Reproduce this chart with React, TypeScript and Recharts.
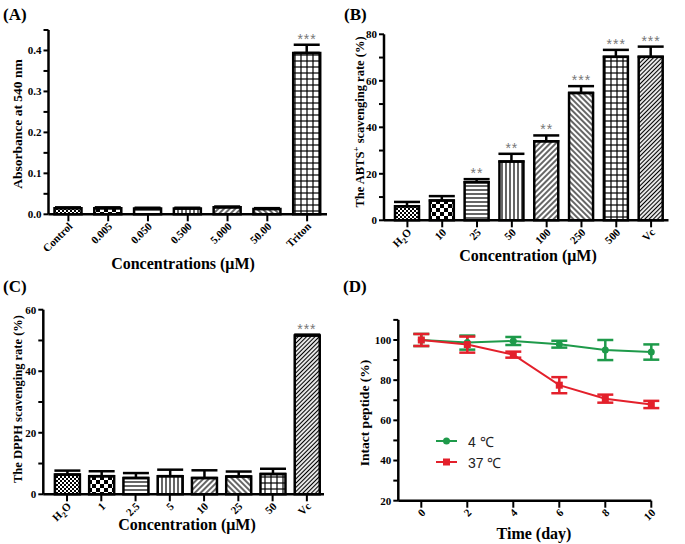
import React from 'react';
import { ComposedChart, Bar, Cell, XAxis, YAxis, ErrorBar, Scatter, Line } from 'recharts';

const SERIF = '"Liberation Serif", "DejaVu Serif", "Times New Roman", Times, serif';
const SANS = '"Liberation Sans", Arial, sans-serif';
const GREEN = '#1e9a4a';
const RED = '#e3202b';

// (A) hemolysis
const hemoLabels = ['Control', '0.005', '0.050', '0.500', '5.000', '50.00', 'Triton'];
const hemoMean = [0.015, 0.015, 0.014, 0.014, 0.017, 0.013, 0.394];
const hemoErr = [0.002, 0.002, 0.002, 0.002, 0.002, 0.002, 0.02];
const hemoStars = ['', '', '', '', '', '', '***'];
const hemoTicks = [0, 0.05, 0.1, 0.15, 0.2, 0.25, 0.3, 0.35, 0.4, 0.45];

// (B) ABTS
const abtsLabels = ['H2O', '10', '25', '50', '100', '250', '500', 'Vc'];
const abtsMean = [6.0, 8.5, 16.4, 25.3, 34.0, 54.8, 70.3, 70.3];
const abtsErr = [1.9, 1.9, 1.3, 3.3, 2.5, 2.9, 3.0, 4.4];
const abtsStars = ['', '', '**', '**', '**', '***', '***', '***'];
const abtsTicks = [0, 10, 20, 30, 40, 50, 60, 70, 80];

// (C) DPPH
const dpphLabels = ['H2O', '1', '2.5', '5', '10', '25', '50', 'Vc'];
const dpphMean = [6.4, 5.9, 5.3, 5.9, 5.3, 5.8, 6.6, 51.6];
const dpphErr = [1.3, 1.6, 1.6, 2.1, 2.5, 1.6, 1.7, 0.3];
const dpphStars = ['', '', '', '', '', '', '', '***'];
const dpphTicks = [0, 10, 20, 30, 40, 50, 60];

// (D) stability
const days = [0, 2, 4, 6, 8, 10];
const coldMean = [100, 98.7, 99.5, 97.9, 95.0, 94.0];
const coldErr = [3, 3.5, 2, 1.7, 5, 3.8];
const warmMean = [100, 97.7, 92.7, 77.5, 70.8, 67.9];
const warmErr = [3, 4, 1.5, 4, 2, 1.8];
const dayTicks = [0, 2, 4, 6, 8, 10];
const pctTicks = [20, 30, 40, 50, 60, 70, 80, 90, 100, 110];

const hemoFills = ['checkS', 'checkL', 'hline', 'vline', 'diag', 'bdiag', 'grid'];
const sweepFills = ['checkS', 'checkL', 'hline', 'vline', 'diag', 'bdiag', 'grid', 'dense'];

const axisLine = { stroke: '#000', strokeWidth: 2.5 };
const tickLine = { stroke: '#000', strokeWidth: 2 };
const yTick = { fontFamily: SERIF, fontWeight: 'bold', fontSize: 11, fill: '#000' };

function patternDefs(id: string) {
  const s = { stroke: '#000', strokeWidth: 1.2 };
  return (
    <defs>
      <pattern id={`${id}-checkS`} width={4} height={4} patternUnits="userSpaceOnUse">
        <rect width={4} height={4} fill="#fff" />
        <rect width={2} height={2} fill="#000" />
        <rect x={2} y={2} width={2} height={2} fill="#000" />
      </pattern>
      <pattern id={`${id}-checkL`} width={8} height={8} patternUnits="userSpaceOnUse">
        <rect width={8} height={8} fill="#fff" />
        <rect width={4} height={4} fill="#000" />
        <rect x={4} y={4} width={4} height={4} fill="#000" />
      </pattern>
      <pattern id={`${id}-hline`} width={4} height={4} patternUnits="userSpaceOnUse">
        <rect width={4} height={4} fill="#fff" />
        <line x1={0} y1={2} x2={4} y2={2} {...s} />
      </pattern>
      <pattern id={`${id}-vline`} width={4} height={4} patternUnits="userSpaceOnUse">
        <rect width={4} height={4} fill="#fff" />
        <line x1={2} y1={0} x2={2} y2={4} {...s} />
      </pattern>
      <pattern id={`${id}-diag`} width={4} height={4} patternUnits="userSpaceOnUse" patternTransform="rotate(45)">
        <rect width={4} height={4} fill="#fff" />
        <line x1={2} y1={0} x2={2} y2={4} {...s} />
      </pattern>
      <pattern id={`${id}-bdiag`} width={4} height={4} patternUnits="userSpaceOnUse" patternTransform="rotate(-45)">
        <rect width={4} height={4} fill="#fff" />
        <line x1={2} y1={0} x2={2} y2={4} {...s} />
      </pattern>
      <pattern id={`${id}-grid`} width={6} height={6} patternUnits="userSpaceOnUse">
        <rect width={6} height={6} fill="#fff" />
        <line x1={1} y1={0} x2={1} y2={6} {...s} />
        <line x1={0} y1={1} x2={6} y2={1} {...s} />
      </pattern>
      <pattern id={`${id}-dense`} width={3} height={3} patternUnits="userSpaceOnUse" patternTransform="rotate(45)">
        <rect width={3} height={3} fill="#fff" />
        <line x1={1.5} y1={0} x2={1.5} y2={3} {...s} />
      </pattern>
    </defs>
  );
}

function SlantTick({ x, y, payload }: any) {
  const v = String(payload.value);
  return (
    <g transform={`translate(${x + 2},${y + 1}) rotate(-45)`}>
      <text textAnchor="end" dy="0.35em" fontFamily={SERIF} fontWeight="bold" fontSize={11} fill="#000">
        {v === 'H2O' ? (
          <>
            <tspan>H</tspan>
            <tspan fontSize={8} dy={3}>2</tspan>
            <tspan dy={-3}>O</tspan>
          </>
        ) : (
          v
        )}
      </text>
    </g>
  );
}

function StarMark({ cx, cy, payload }: any) {
  if (!payload || !payload.star) return null;
  return (
    <text x={cx} y={cy - 1} textAnchor="middle" fontFamily={SANS} fontSize={14} fill="#777" letterSpacing={1}>
      {payload.star}
    </text>
  );
}

function BarPanel(props: any) {
  const { id, labels, mean, err, stars, fills, ticks, fmt, width, height, margin, yWidth, padLeft, barSize, xHeight } = props;
  const data = labels.map((label: string, i: number) => ({
    label,
    mean: mean[i],
    err: [0, err[i]],
    top: mean[i] + err[i],
    star: stars[i],
  }));
  return (
    <ComposedChart width={width} height={height} data={data} margin={margin}>
      {patternDefs(id)}
      <XAxis
        dataKey="label"
        type="category"
        interval={0}
        tick={<SlantTick />}
        tickSize={7}
        axisLine={axisLine}
        tickLine={tickLine}
        padding={{ left: padLeft, right: 0 }}
        height={xHeight}
      />
      <YAxis
        domain={[ticks[0], ticks[ticks.length - 1]]}
        ticks={ticks}
        interval={0}
        tickFormatter={fmt}
        width={yWidth}
        tick={yTick}
        tickSize={5}
        axisLine={axisLine}
        tickLine={tickLine}
      />
      <Bar dataKey="mean" barSize={barSize} stroke="#000" strokeWidth={2.5} isAnimationActive={false}>
        {data.map((_d: any, i: number) => (
          <Cell key={i} fill={`url(#${id}-${fills[i]})`} />
        ))}
        <ErrorBar dataKey="err" width={13} stroke="#000" strokeWidth={2.5} direction="y" />
      </Bar>
      <Scatter dataKey="top" shape={StarMark} isAnimationActive={false} />
    </ComposedChart>
  );
}

function ColdDot({ cx, cy }: any) {
  return <circle cx={cx} cy={cy} r={3.5} fill={GREEN} />;
}

function WarmDot({ cx, cy }: any) {
  return <rect x={cx - 3.5} y={cy - 3.5} width={7} height={7} fill={RED} />;
}

function Title({ x, y, size, rotate, children }: any) {
  return (
    <div
      style={{
        position: 'absolute',
        left: x,
        top: y,
        transform: `translate(-50%, -50%)${rotate ? ' rotate(-90deg)' : ''}`,
        whiteSpace: 'nowrap',
        fontFamily: SERIF,
        fontWeight: 'bold',
        fontSize: size,
        lineHeight: 1,
        color: '#000',
      }}
    >
      {children}
    </div>
  );
}

function LegendRow({ y, label, warm }: any) {
  const color = warm ? RED : GREEN;
  return (
    <div style={{ position: 'absolute', left: 436, top: y - 8, height: 16, display: 'flex', alignItems: 'center' }}>
      <svg width={22} height={10}>
        <line x1={0} y1={5} x2={21} y2={5} stroke={color} strokeWidth={2} />
        {warm ? <rect x={7} y={1.5} width={7} height={7} fill={color} /> : <circle cx={10.5} cy={5} r={3.5} fill={color} />}
      </svg>
      <span style={{ marginLeft: 10, fontFamily: SANS, fontSize: 14, color: '#222' }}>{label}</span>
    </div>
  );
}

export default function App() {
  const stabData = days.map((day, i) => ({
    day,
    cold: coldMean[i],
    coldErr: coldErr[i],
    warm: warmMean[i],
    warmErr: warmErr[i],
  }));
  const panelLabel = { position: 'absolute' as const, fontFamily: SERIF, fontWeight: 'bold' as const, fontSize: 17, lineHeight: 1 };

  return (
    <div style={{ position: 'absolute', left: 0, top: 0, width: 685, height: 544, background: '#fff' }}>
      <div style={{ position: 'absolute', left: 0, top: 0 }}>
        <BarPanel
          id="a"
          labels={hemoLabels}
          mean={hemoMean}
          err={hemoErr}
          stars={hemoStars}
          fills={hemoFills}
          ticks={hemoTicks}
          fmt={(v: number) => (Math.round(v * 100) % 10 === 0 ? v.toFixed(1) : '')}
          width={340}
          height={272}
          margin={{ top: 30, right: 13, bottom: 7.7, left: 0 }}
          yWidth={48.5}
          xHeight={50}
          padLeft={0}
          barSize={27}
        />
      </div>
      <div style={{ position: 'absolute', left: 340, top: 0 }}>
        <BarPanel
          id="b"
          labels={abtsLabels}
          mean={abtsMean}
          err={abtsErr}
          stars={abtsStars}
          fills={sweepFills}
          ticks={abtsTicks}
          fmt={(v: number) => (v % 20 === 0 ? String(v) : '')}
          width={345}
          height={272}
          margin={{ top: 34.3, right: 16.5, bottom: 6.7, left: 0 }}
          yWidth={44}
          xHeight={45}
          padLeft={6}
          barSize={24}
        />
      </div>
      <div style={{ position: 'absolute', left: 0, top: 272 }}>
        <BarPanel
          id="c"
          labels={dpphLabels}
          mean={dpphMean}
          err={dpphErr}
          stars={dpphStars}
          fills={sweepFills}
          ticks={dpphTicks}
          fmt={(v: number) => (v % 20 === 0 ? String(v) : '')}
          width={340}
          height={272}
          margin={{ top: 37.7, right: 16, bottom: 4.7, left: 0 }}
          yWidth={43.3}
          xHeight={45}
          padLeft={6.6}
          barSize={25}
        />
      </div>
      <div style={{ position: 'absolute', left: 340, top: 272 }}>
        <ComposedChart width={345} height={272} data={stabData} margin={{ top: 47.9, right: 33.7, bottom: 8.3, left: 0 }}>
          <XAxis
            dataKey="day"
            type="number"
            domain={[-1, 10]}
            ticks={dayTicks}
            interval={0}
            tick={<SlantTick />}
            tickSize={7}
            axisLine={axisLine}
            tickLine={tickLine}
            height={35}
          />
          <YAxis
            domain={[20, 110]}
            ticks={pctTicks}
            interval={0}
            tickFormatter={(v: number) => (v % 20 === 0 ? String(v) : '')}
            width={58.3}
            tick={yTick}
            tickSize={5}
            axisLine={axisLine}
            tickLine={tickLine}
          />
          <Line dataKey="cold" type="linear" stroke={GREEN} strokeWidth={2} dot={<ColdDot />} isAnimationActive={false}>
            <ErrorBar dataKey="coldErr" width={8} stroke={GREEN} strokeWidth={2.5} direction="y" />
          </Line>
          <Line dataKey="warm" type="linear" stroke={RED} strokeWidth={2} dot={<WarmDot />} isAnimationActive={false}>
            <ErrorBar dataKey="warmErr" width={8} stroke={RED} strokeWidth={2.5} direction="y" />
          </Line>
        </ComposedChart>
      </div>

      <div style={{ ...panelLabel, left: 3, top: 6 }}>(A)</div>
      <div style={{ ...panelLabel, left: 344, top: 6 }}>(B)</div>
      <div style={{ ...panelLabel, left: 3, top: 278 }}>(C)</div>
      <div style={{ ...panelLabel, left: 343, top: 278 }}>(D)</div>

      <Title x={17.5} y={124} size={13.5} rotate>Absorbance at 540 nm</Title>
      <Title x={183} y={264} size={16}>Concentrations (μM)</Title>
      <Title x={359} y={122} size={12.5} rotate>
        The ABTS<sup style={{ fontSize: 9 }}>+</sup> scavenging rate (%)
      </Title>
      <Title x={528} y={256} size={16}>Concentration (μM)</Title>
      <Title x={18} y={399} size={12.5} rotate>The DPPH scavenging rate (%)</Title>
      <Title x={187} y={525} size={16}>Concentration (μM)</Title>
      <Title x={365} y={413} size={13.5} rotate>Intact peptide (%)</Title>
      <Title x={534} y={534} size={16}>Time (day)</Title>

      <LegendRow y={441} label="4 ℃" />
      <LegendRow y={462} label="37 ℃" warm />
    </div>
  );
}
